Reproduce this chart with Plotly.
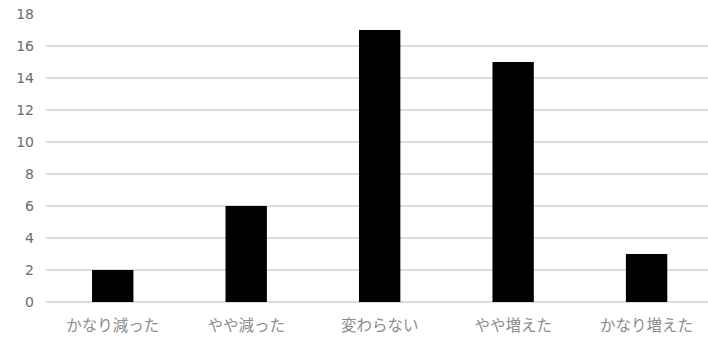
import plotly.graph_objects as go

categories = ["かなり減った", "やや減った", "変わらない", "やや増えた", "かなり増えた"]
counts = [2, 6, 17, 15, 3]
y_ticks = [0, 2, 4, 6, 8, 10, 12, 14, 16, 18]

fig = go.Figure(
    go.Bar(
        x=categories,
        y=counts,
        marker=dict(color="#000000", line=dict(width=0)),
        hoverinfo="x+y",
    )
)

fig.update_layout(
    width=708,
    height=340,
    margin=dict(l=46, r=0, t=14, b=38),
    paper_bgcolor="white",
    plot_bgcolor="white",
    bargap=0.69,
    showlegend=False,
    font=dict(family="Noto Sans CJK JP, Noto Sans, sans-serif", color="#8a8a8a"),
)

fig.update_xaxes(
    type="category",
    range=[-0.5, 4.46],
    showgrid=False,
    showline=False,
    zeroline=False,
    ticks="",
    tickfont=dict(family="Noto Sans CJK JP", size=15.5, color="#8c8c8c"),
    ticklabelstandoff=12,
)

fig.update_yaxes(
    range=[0, 18],
    tickvals=y_ticks,
    showgrid=True,
    gridcolor="#dcdcdc",
    gridwidth=1.5,
    zeroline=True,
    zerolinecolor="#dcdcdc",
    zerolinewidth=1.5,
    showline=False,
    ticks="",
    tickfont=dict(family="DejaVu Sans", size=14, color="#6a6a6a"),
    ticklabelstandoff=11,
)

fig.write_html("out.html")
